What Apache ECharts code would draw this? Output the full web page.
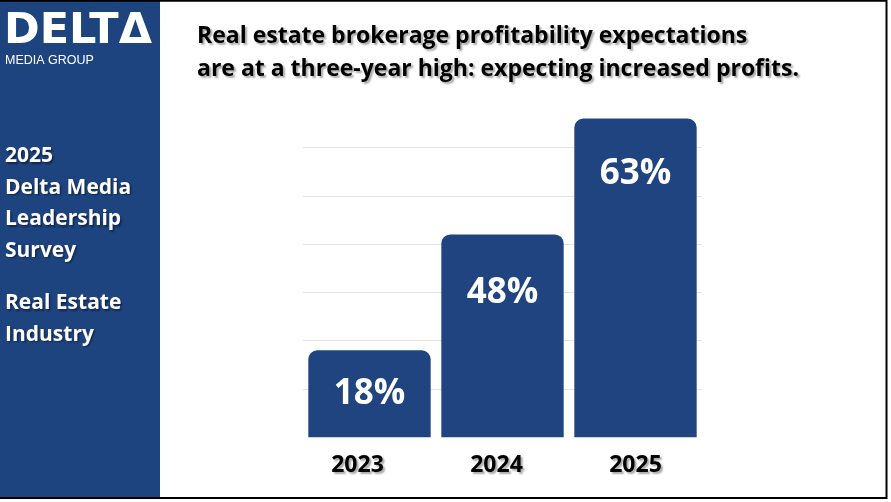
<!DOCTYPE html>
<html>
<head>
<meta charset="utf-8">
<script src="https://cdn.jsdelivr.net/npm/echarts@6/dist/echarts.min.js"></script>
<style>
html,body{margin:0;padding:0;background:#fff;}
#chart{width:891px;height:502px;}
</style>
</head>
<body>
<div id="chart"></div>
<script>
// ---- data ----
const categories = ['2023', '2024', '2025'];
const barHeights = [18, 42, 66];          // bar heights as drawn on the gridline scale
const valueLabels = ['18%', '48%', '63%']; // printed values
const yTicks = [0, 10, 20, 30, 40, 50, 60, 70];
const titleLines = ['Real estate brokerage profitability expectations',
                    'are at a three-year high: expecting increased profits.'];
const sideLines = ['2025', 'Delta Media', 'Leadership', 'Survey', '', 'Real Estate', 'Industry'];

// ---- styles ----
const BLUE = '#1f447f';
const FONT = '"Open Sans", "Noto Sans", sans-serif';
const labelDistances = [26, 41, 38];
const catLabelPad = [[0, 24, 0, 0], [0, 12, 0, 0], [0, 0, 0, 0]];

const chart = echarts.init(document.getElementById('chart'), null, {renderer: 'canvas'});

const sideGraphics = [];
let ly = 159;
sideLines.forEach(t => {
  if (t) {
    sideGraphics.push({
      type: 'text', left: 5, top: ly - 13,
      style: {text: t, fill: '#fff', font: 'bold 21px ' + FONT,
        textShadowColor: 'rgba(0,0,0,0.45)', textShadowOffsetX: 1.5, textShadowOffsetY: 1.5, textShadowBlur: 2}
    });
  }
  ly += t ? 31.5 : 21;
});

const titleStyle = {fill: '#000', font: 'bold 23px ' + FONT,
  textShadowColor: 'rgba(0,0,0,0.35)', textShadowOffsetX: 2, textShadowOffsetY: 2, textShadowBlur: 2};

const option = {
  animation: false,
  backgroundColor: '#fff',
  grid: {left: 303, right: 189, top: 99.2, bottom: 64.7},
  xAxis: {
    type: 'category',
    data: categories.map((c, i) => ({value: c, textStyle: {padding: catLabelPad[i]}})),
    axisLine: {show: false}, axisTick: {show: false},
    axisLabel: {
      color: '#000', fontFamily: FONT, fontWeight: 'bold', fontSize: 23, margin: 17,
      textShadowColor: 'rgba(0,0,0,0.35)', textShadowOffsetX: 2, textShadowOffsetY: 2, textShadowBlur: 2
    }
  },
  yAxis: {
    type: 'value', min: yTicks[0], max: yTicks[yTicks.length - 1], interval: yTicks[1] - yTicks[0],
    axisLabel: {show: false}, axisLine: {show: false}, axisTick: {show: false},
    splitLine: {lineStyle: {color: ['rgba(0,0,0,0)', '#e3e3e3', '#e3e3e3', '#e3e3e3', '#e3e3e3', '#e3e3e3', '#e3e3e3', 'rgba(0,0,0,0)'], width: 1}}
  },
  series: [{
    type: 'bar',
    barCategoryGap: '8%',
    data: barHeights.map((v, i) => ({
      value: v,
      label: {distance: labelDistances[i], formatter: valueLabels[i]}
    })),
    itemStyle: {color: BLUE, borderRadius: [9, 9, 0, 0]},
    label: {show: true, position: 'insideTop', color: '#fff', fontFamily: FONT, fontWeight: 'bold', fontSize: 35}
  }],
  graphic: [
    {type: 'rect', shape: {x: 0, y: 0, width: 160, height: 498}, style: {fill: '#1e4480'}, z: -1},
    {type: 'text', left: 4, top: 10, style: {text: 'DELTΔ', fill: '#fff', font: 'bold 43px "DejaVu Sans", sans-serif'}},
    {type: 'text', left: 5, top: 54, style: {text: 'MEDIA GROUP', fill: '#fff', font: '12.5px "Liberation Sans", sans-serif'}},
    {type: 'text', left: 197, top: 25, style: Object.assign({text: titleLines[0]}, titleStyle)},
    {type: 'text', left: 197, top: 58, style: Object.assign({text: titleLines[1]}, titleStyle)},
    ...sideGraphics,
    {type: 'polyline', shape: {points: [[0, 0.75], [886.5, 0.75], [886.5, 498], [0, 498]]},
      style: {stroke: '#000', lineWidth: 2, fill: null}, z: 100}
  ]
};
chart.setOption(option);
</script>
</body>
</html>
